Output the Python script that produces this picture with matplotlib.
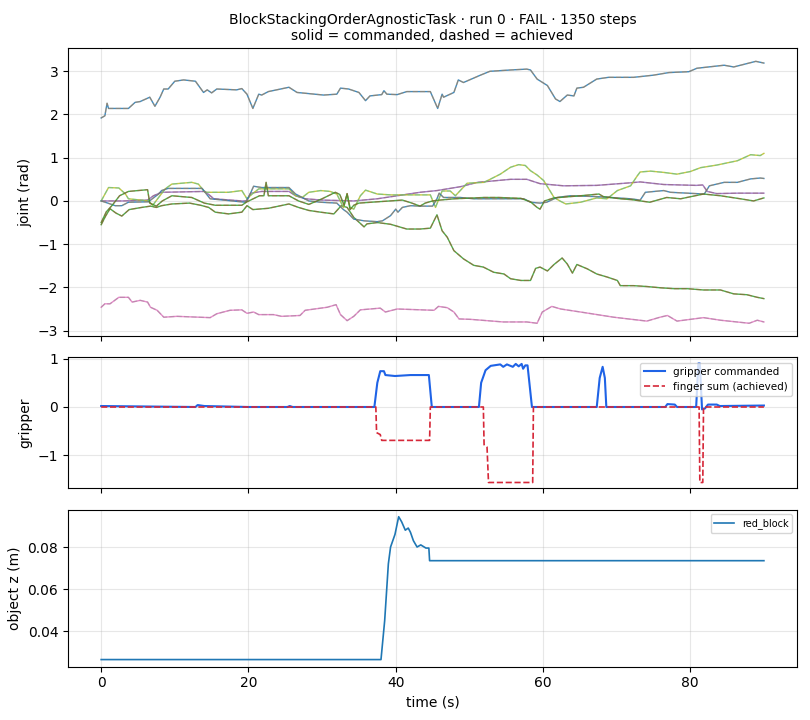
import matplotlib
matplotlib.use("Agg")
import matplotlib.pyplot as plt

# joint trajectories: (time s, angle rad)
j0 = [(0, 1.92), (0.5, 1.97), (0.8, 2.26), (1.0, 2.14), (3.7, 2.14), (4.6, 2.28), (5.3, 2.30),
      (6.6, 2.40), (7.3, 2.19), (8.0, 2.40), (8.5, 2.59), (9.1, 2.59), (10.0, 2.77), (11.2, 2.80),
      (12.8, 2.77), (13.9, 2.51), (14.4, 2.57), (15.0, 2.50), (15.7, 2.59), (18.4, 2.57),
      (19.1, 2.60), (19.8, 2.47), (20.6, 2.14), (21.4, 2.47), (21.8, 2.45), (22.7, 2.53),
      (25.5, 2.63), (26.6, 2.51), (30.2, 2.45), (32.0, 2.47), (32.5, 2.61), (33.6, 2.59),
      (35.0, 2.51), (35.9, 2.32), (36.5, 2.43), (38.1, 2.46), (38.4, 2.55), (38.8, 2.47),
      (40.2, 2.46), (41.5, 2.53), (44.7, 2.53), (45.7, 2.14), (46.3, 2.47), (46.5, 2.40),
      (47.9, 2.51), (48.5, 2.80), (49.2, 2.74), (51.5, 2.91), (52.8, 3.00), (55.6, 3.03),
      (57.8, 3.05), (58.3, 3.03), (59.2, 2.82), (60.6, 2.67), (61.7, 2.36), (62.3, 2.30),
      (63.3, 2.45), (64.2, 2.43), (64.6, 2.61), (65.5, 2.63), (67.3, 2.82), (68.9, 2.86),
      (72.3, 2.86), (75.0, 2.91), (77.1, 2.97), (79.8, 2.99), (80.9, 3.07), (84.6, 3.14),
      (85.9, 3.10), (88.9, 3.23), (90.0, 3.19)]
j1 = [(0, -0.55), (0.6, -0.35), (1.2, -0.18), (2.0, -0.28), (2.8, -0.35), (3.8, -0.20),
      (5.5, -0.15), (6.7, -0.12), (7.5, -0.15), (8.2, -0.11), (9.6, -0.07), (12.0, -0.05),
      (13.5, -0.10), (14.6, -0.15), (15.5, -0.26), (17.3, -0.30), (19.1, -0.26), (19.8, -0.11),
      (20.6, -0.20), (22.7, -0.17), (25.5, -0.07), (26.8, -0.15), (28.2, -0.22), (29.8, -0.26),
      (31.6, -0.30), (32.6, -0.11), (33.4, -0.15), (34.3, -0.38), (35.7, -0.60), (36.1, -0.53),
      (37.5, -0.50), (39.3, -0.54), (41.5, -0.65), (43.3, -0.65), (44.7, -0.63), (45.6, -0.32),
      (46.3, -0.69), (47.0, -0.84), (47.9, -1.15), (49.2, -1.34), (50.6, -1.49), (51.9, -1.53),
      (53.3, -1.65), (54.7, -1.69), (55.6, -1.80), (57.0, -1.84), (58.3, -1.84), (59.0, -1.56),
      (59.6, -1.53), (60.6, -1.62), (61.5, -1.47), (62.6, -1.32), (63.3, -1.46), (64.0, -1.67),
      (64.6, -1.47), (66.0, -1.57), (67.3, -1.69), (68.7, -1.76), (70.1, -1.84), (70.5, -1.96),
      (72.3, -1.96), (74.1, -1.98), (76.0, -2.01), (77.8, -2.03), (79.6, -2.03), (81.8, -2.06),
      (84.1, -2.06), (85.9, -2.15), (87.7, -2.17), (89.1, -2.23), (90.0, -2.26)]
j2 = [(0, 0.0), (3.0, 0.0), (6.3, 0.02), (7.1, 0.12), (8.2, 0.20), (14.1, 0.22), (15.3, 0.05),
      (19.1, 0.0), (19.8, 0.0), (20.3, 0.18), (21.8, 0.22), (25.5, 0.22), (26.4, 0.12),
      (27.7, 0.05), (30.0, 0.02), (34.3, 0.0), (37.5, 0.05), (40.2, 0.12), (43.3, 0.20),
      (45.6, 0.24), (48.8, 0.33), (51.1, 0.43), (55.6, 0.50), (57.8, 0.50), (59.6, 0.40),
      (62.8, 0.35), (67.3, 0.36), (71.9, 0.42), (73.2, 0.44), (76.4, 0.38), (80.8, 0.36),
      (81.7, 0.37), (82.3, 0.22), (83.6, 0.17), (86.4, 0.18), (90.0, 0.18)]
j3 = [(0, -2.46), (0.5, -2.38), (1.2, -2.38), (2.4, -2.23), (3.7, -2.23), (4.2, -2.34),
      (5.3, -2.30), (6.3, -2.34), (6.7, -2.46), (7.6, -2.53), (8.5, -2.69), (10.3, -2.67),
      (14.8, -2.70), (15.7, -2.61), (17.5, -2.53), (19.1, -2.52), (19.8, -2.60), (20.7, -2.57),
      (21.4, -2.63), (23.4, -2.63), (24.5, -2.67), (27.0, -2.65), (27.7, -2.53), (30.7, -2.46),
      (31.9, -2.40), (32.5, -2.63), (33.4, -2.77), (34.3, -2.67), (35.2, -2.52), (37.9, -2.48),
      (38.6, -2.57), (40.2, -2.50), (45.2, -2.53), (45.8, -2.44), (47.0, -2.47), (47.9, -2.57),
      (48.6, -2.73), (50.2, -2.74), (54.6, -2.80), (57.8, -2.80), (59.2, -2.83), (59.9, -2.57),
      (61.2, -2.44), (62.4, -2.50), (65.1, -2.57), (69.6, -2.69), (74.1, -2.78), (75.9, -2.69),
      (76.9, -2.65), (78.2, -2.78), (81.8, -2.70), (84.1, -2.76), (88.0, -2.83), (89.1, -2.76),
      (90.0, -2.80)]
j4 = [(0, 0.0), (1.0, 0.31), (2.4, 0.30), (3.3, 0.16), (3.7, 0.05), (6.4, 0.0), (7.0, -0.10),
      (7.8, 0.08), (8.7, 0.28), (9.6, 0.39), (12.3, 0.43), (13.2, 0.39), (14.1, 0.20),
      (17.3, 0.20), (19.1, 0.24), (19.8, 0.05), (20.5, 0.16), (21.4, 0.28), (25.5, 0.28),
      (26.4, 0.12), (27.3, 0.08), (28.2, 0.20), (29.8, 0.24), (31.1, 0.22), (32.0, 0.16),
      (32.9, -0.15), (33.4, 0.16), (33.8, -0.15), (34.3, -0.19), (35.2, 0.12), (35.9, 0.25),
      (37.5, 0.16), (39.3, 0.14), (44.7, 0.14), (45.4, -0.15), (46.3, 0.23), (47.4, 0.23),
      (48.1, 0.12), (49.7, 0.41), (52.0, 0.43), (54.2, 0.62), (55.6, 0.78), (56.7, 0.84),
      (57.6, 0.82), (58.3, 0.70), (59.2, 0.60), (60.1, 0.47), (61.5, 0.08), (62.4, -0.01),
      (63.1, -0.07), (65.1, -0.03), (67.3, 0.07), (68.7, 0.05), (70.1, 0.24), (71.9, 0.35),
      (72.8, 0.58), (73.2, 0.67), (74.6, 0.69), (76.4, 0.66), (78.2, 0.62), (80.0, 0.68),
      (81.4, 0.77), (83.6, 0.83), (86.4, 0.93), (88.2, 1.07), (89.5, 1.05), (90.0, 1.10)]
j5 = [(0, 0.0), (0.9, -0.05), (1.9, -0.11), (2.8, -0.11), (3.7, -0.03), (6.4, -0.02),
      (7.8, 0.16), (8.2, 0.24), (9.1, 0.29), (13.7, 0.29), (14.8, 0.05), (19.6, -0.03),
      (20.2, 0.15), (20.7, 0.34), (21.8, 0.31), (25.5, 0.31), (26.4, 0.16), (28.2, 0.0),
      (29.8, -0.03), (32.0, -0.05), (32.9, -0.20), (33.4, -0.26), (34.3, -0.42), (35.7, -0.46),
      (37.5, -0.48), (38.2, -0.46), (39.3, -0.34), (40.0, -0.19), (40.3, -0.26), (40.9, -0.15),
      (42.0, -0.11), (43.3, -0.12), (45.0, -0.12), (45.6, 0.05), (45.9, 0.18), (46.5, 0.08),
      (48.8, 0.08), (50.6, 0.05), (53.7, 0.05), (57.4, 0.05), (58.3, -0.03), (59.6, -0.05),
      (60.5, -0.03), (61.9, 0.08), (63.7, 0.12), (67.3, 0.10), (69.2, 0.08), (71.9, 0.05),
      (73.2, 0.02), (73.9, 0.20), (76.4, 0.24), (77.3, 0.20), (81.9, 0.16), (82.6, 0.35),
      (84.6, 0.43), (86.4, 0.43), (88.2, 0.51), (89.5, 0.53), (90.0, 0.52)]
j6 = [(0, -0.50), (0.7, -0.25), (1.5, -0.10), (2.5, 0.12), (3.7, 0.22), (6.3, 0.26),
      (6.6, -0.05), (7.5, -0.12), (8.3, 0.0), (9.6, 0.12), (12.3, 0.08), (14.0, -0.05),
      (15.5, -0.10), (19.1, -0.10), (19.8, -0.02), (21.5, 0.12), (22.1, 0.12), (22.4, 0.43),
      (22.7, 0.12), (25.5, 0.12), (26.8, 0.0), (28.2, -0.08), (30.0, 0.05), (31.8, 0.20),
      (32.4, 0.15), (33.0, -0.10), (33.4, 0.17), (33.8, -0.20), (34.3, -0.10), (35.0, -0.05),
      (37.5, -0.02), (40.9, 0.02), (42.2, -0.05), (43.3, -0.12), (44.0, -0.05), (45.0, 0.0),
      (46.0, 0.02), (48.0, 0.05), (52.0, 0.08), (54.0, 0.08), (57.0, 0.06), (58.3, -0.02),
      (59.2, -0.15), (59.6, -0.19), (60.2, 0.0), (61.5, 0.07), (63.7, 0.10), (65.1, 0.12),
      (67.6, 0.16), (68.2, 0.10), (70.5, 0.05), (72.0, 0.03), (74.5, -0.03), (76.8, 0.08),
      (78.7, 0.05), (81.8, 0.16), (84.1, 0.12), (86.8, 0.05), (88.6, 0.0), (90.0, 0.07)]
joints = [j0, j1, j2, j3, j4, j5, j6]

# gripper command and achieved finger sum
grip_cmd = [(0, 0.02), (12.8, 0.0), (13.1, 0.04), (14.0, 0.02), (20.0, 0.0), (25.3, 0.0),
            (25.6, 0.02), (26.0, 0.0), (37.1, 0.0), (37.5, 0.5), (37.9, 0.74), (38.4, 0.74),
            (38.6, 0.66), (39.9, 0.64), (42.0, 0.66), (44.5, 0.66), (44.9, 0.0), (51.3, 0.0),
            (51.6, 0.5), (52.2, 0.76), (52.9, 0.85), (54.2, 0.88), (54.6, 0.83), (55.1, 0.88),
            (55.9, 0.83), (56.3, 0.89), (56.7, 0.84), (57.1, 0.89), (57.3, 0.79), (57.6, 0.86),
            (57.9, 0.86), (58.5, 0.0), (67.3, 0.0), (67.7, 0.6), (68.1, 0.83), (68.4, 0.6),
            (68.6, 0.0), (76.6, 0.0), (76.9, 0.06), (77.9, 0.05), (78.2, 0.0), (80.8, 0.0),
            (81.1, 0.90), (81.3, 0.90), (81.6, -0.05), (82.0, -0.03), (82.4, 0.05), (83.6, 0.05),
            (84.0, 0.02), (90.0, 0.03)]
finger_sum = [(0, 0.0), (37.3, 0.0), (37.4, -0.53), (37.9, -0.57), (38.1, -0.69), (44.6, -0.69),
              (44.7, 0.0), (51.9, 0.0), (52.0, -0.78), (52.4, -0.83), (52.6, -1.56), (58.6, -1.56),
              (58.7, 0.0), (81.2, 0.0), (81.3, -1.56), (81.7, -1.56), (81.8, 0.0), (90.0, 0.0)]

# object height
red_block_z = [(0, 0.0265), (38.0, 0.0265), (38.5, 0.045), (39.0, 0.072), (39.3, 0.080),
               (39.9, 0.086), (40.4, 0.0944), (40.8, 0.092), (41.3, 0.088), (41.7, 0.089),
               (42.0, 0.087), (42.4, 0.083), (42.9, 0.080), (43.4, 0.081), (44.1, 0.0795),
               (44.5, 0.0795), (44.6, 0.0735), (90.0, 0.0735)]


def xy(pts):
    return [p[0] for p in pts], [p[1] for p in pts]


fig, (ax1, ax2, ax3) = plt.subplots(3, 1, figsize=(8.1, 7.2), dpi=100, sharex=True,
                                    gridspec_kw={"height_ratios": [2.2, 1, 1.2]})
fig.subplots_adjust(left=0.084, right=0.984, top=0.933, bottom=0.074, hspace=0.11)

# solid = commanded, dashed = achieved, colours follow the default cycle
for j in joints:
    t, v = xy(j)
    ax1.plot(t, v, lw=1.0, alpha=0.85)
    ax1.plot(t, v, lw=1.0, ls="--", alpha=0.35)
ax1.set_ylabel("joint (rad)")
ax1.set_title("BlockStackingOrderAgnosticTask · run 0 · FAIL · 1350 steps\n"
              "solid = commanded, dashed = achieved", fontsize=10)
ax1.grid(alpha=0.3)

t, v = xy(grip_cmd)
ax2.plot(t, v, color="#1f63e6", lw=1.5, label="gripper commanded")
t, v = xy(finger_sum)
ax2.plot(t, v, color="#d62738", lw=1.2, ls="--", label="finger sum (achieved)")
ax2.set_ylabel("gripper")
ax2.legend(loc="upper right", fontsize=7.5)
ax2.grid(alpha=0.3)

t, v = xy(red_block_z)
ax3.plot(t, v, color="tab:blue", lw=1.2, label="red_block")
ax3.set_ylabel("object z (m)")
ax3.set_xlabel("time (s)")
ax3.legend(loc="upper right", fontsize=7)
ax3.grid(alpha=0.3)

fig.savefig("out.png", dpi=100)
